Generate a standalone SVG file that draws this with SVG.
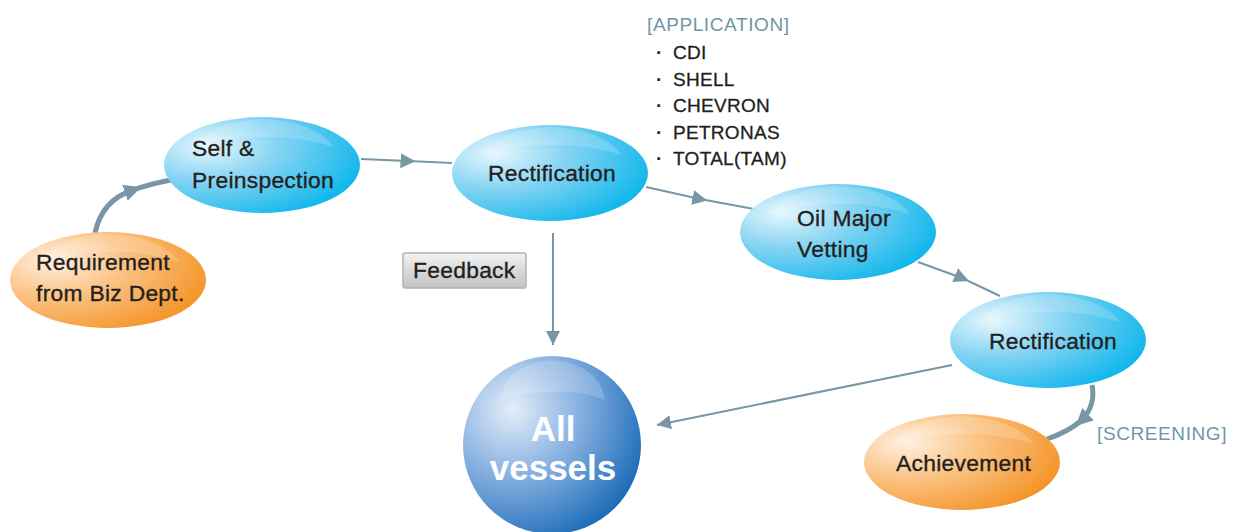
<svg xmlns="http://www.w3.org/2000/svg" width="1242" height="532" viewBox="0 0 1242 532">
<style>
.lbl{font-family:"Liberation Sans",Arial,sans-serif;font-size:22.8px;fill:#231f20;stroke:#231f20;stroke-width:0.35px;letter-spacing:0.3px}
.note{font-family:"Liberation Sans",Arial,sans-serif;font-size:19px;fill:#231f20;stroke:#231f20;stroke-width:0.3px;letter-spacing:0.3px}
.dot{font-family:"Liberation Sans",Arial,sans-serif;font-size:19px;font-weight:bold;fill:#231f20}
.tag{font-family:"Liberation Sans",Arial,sans-serif;font-size:19px;fill:#6f96a6;letter-spacing:0.6px}
.big{font-family:"Liberation Sans",Arial,sans-serif;font-size:35px;font-weight:bold;fill:#ffffff}
.thin{fill:none;stroke:#7896a4;stroke-width:2}
.thick{fill:none;stroke:#7896a4;stroke-width:5}
.gloss{fill:#ffffff;opacity:0.18}
</style>
<defs>
<radialGradient id="gBlue" cx="0.22" cy="0.3" r="0.9">
<stop offset="0" stop-color="#e6f7fd"/>
<stop offset="0.4" stop-color="#86d4f3"/>
<stop offset="1" stop-color="#00b3eb"/>
</radialGradient>
<radialGradient id="gOrange" cx="0.22" cy="0.3" r="0.9">
<stop offset="0" stop-color="#fff0e0"/>
<stop offset="0.4" stop-color="#fbc486"/>
<stop offset="1" stop-color="#f38e1c"/>
</radialGradient>
<radialGradient id="gSphere" cx="0.28" cy="0.3" r="0.85">
<stop offset="0" stop-color="#e3eef9"/>
<stop offset="0.45" stop-color="#86afe0"/>
<stop offset="1" stop-color="#0d63b3"/>
</radialGradient>
<linearGradient id="gGray" x1="0" y1="0" x2="0" y2="1">
<stop offset="0" stop-color="#f4f4f4"/>
<stop offset="0.5" stop-color="#d9d9d9"/>
<stop offset="1" stop-color="#c4c4c4"/>
</linearGradient>
<marker id="tri" viewBox="0 0 10 10" refX="5" refY="5" markerWidth="15" markerHeight="16" markerUnits="userSpaceOnUse" orient="auto">
<path d="M0,0 L10,5 L0,10 Z" fill="#7896a4"/>
</marker>
<marker id="triEnd" viewBox="0 0 10 10" refX="10" refY="5" markerWidth="14" markerHeight="15" markerUnits="userSpaceOnUse" orient="auto">
<path d="M0,0 L10,5 L0,10 Z" fill="#7896a4"/>
</marker>
<marker id="triBig" viewBox="0 0 10 10" refX="5" refY="5" markerWidth="17" markerHeight="18" markerUnits="userSpaceOnUse" orient="auto">
<path d="M0,0 L10,5 L0,10 Z" fill="#7896a4"/>
</marker>
</defs>

<g id="connectors">
<path class="thick" d="M95,233 Q102,200 133,190 Q150,184 171,180" marker-mid="url(#triBig)"/>
<polyline class="thin" points="361,159 408,161 452,163" marker-mid="url(#tri)"/>
<polyline class="thin" points="646,187 700,199 754,209" marker-mid="url(#tri)"/>
<polyline class="thin" points="918,262 962,278 1000,296" marker-mid="url(#tri)"/>
<line class="thin" x1="553" y1="233" x2="553" y2="345" marker-end="url(#triEnd)" stroke-width="3"/>
<line class="thin" x1="952" y1="365" x2="657" y2="425" marker-end="url(#triEnd)"/>
<path class="thick" d="M1092,385 Q1096,405 1082,420 Q1068,432 1047,439" marker-mid="url(#triBig)"/>
</g>

<g id="node-requirement">
<ellipse cx="108" cy="280" rx="98" ry="48" fill="url(#gOrange)"/>
<path class="gloss" d="M38,262 Q60,236 108,234 Q160,236 180,262 Q140,250 108,252 Q70,252 38,262 Z"/>
<text class="lbl" x="36" y="270">Requirement</text>
<text class="lbl" x="36" y="301">from Biz Dept.</text>
</g>

<g id="node-self">
<ellipse cx="262" cy="165" rx="98" ry="48" fill="url(#gBlue)"/>
<path class="gloss" d="M192,147 Q214,121 262,119 Q314,121 334,147 Q294,135 262,137 Q224,137 192,147 Z"/>
<text class="lbl" x="192" y="156">Self &amp;</text>
<text class="lbl" x="192" y="188">Preinspection</text>
</g>

<g id="node-rect1">
<ellipse cx="550" cy="173" rx="98" ry="48" fill="url(#gBlue)"/>
<path class="gloss" d="M480,155 Q502,129 550,127 Q602,129 622,155 Q582,143 550,145 Q512,145 480,155 Z"/>
<text class="lbl" x="488" y="181">Rectification</text>
</g>

<g id="node-oil">
<ellipse cx="838" cy="232" rx="98" ry="48" fill="url(#gBlue)"/>
<path class="gloss" d="M768,214 Q790,188 838,186 Q890,188 910,214 Q870,202 838,204 Q800,204 768,214 Z"/>
<text class="lbl" x="797" y="226">Oil Major</text>
<text class="lbl" x="797" y="257">Vetting</text>
</g>

<g id="node-rect2">
<ellipse cx="1048" cy="340" rx="98" ry="48" fill="url(#gBlue)"/>
<path class="gloss" d="M978,322 Q1000,296 1048,294 Q1100,296 1120,322 Q1080,310 1048,312 Q1010,312 978,322 Z"/>
<text class="lbl" x="989" y="349">Rectification</text>
</g>

<g id="node-achievement">
<ellipse cx="962" cy="462" rx="98" ry="48" fill="url(#gOrange)"/>
<path class="gloss" d="M892,444 Q914,418 962,416 Q1014,418 1034,444 Q994,432 962,434 Q924,434 892,444 Z"/>
<text class="lbl" x="896" y="471">Achievement</text>
</g>

<g id="node-allvessels">
<circle cx="552" cy="445" r="89" fill="url(#gSphere)"/>
<path class="gloss" d="M500,400 Q505,365 552,360 Q600,365 605,400 Q580,390 552,392 Q525,392 500,400 Z"/>
<text class="big" x="553" y="441" text-anchor="middle">All</text>
<text class="big" x="553" y="480" text-anchor="middle">vessels</text>
</g>

<g id="feedback">
<rect x="403" y="253" width="123" height="35" rx="2" fill="url(#gGray)" stroke="#b3b3b3" stroke-width="1.5"/>
<text class="lbl" x="413" y="278">Feedback</text>
</g>

<g id="application">
<text class="tag" x="647" y="31">[APPLICATION]</text>
<text class="dot" x="656" y="59">·</text><text class="note" x="673" y="59">CDI</text>
<text class="dot" x="656" y="85.5">·</text><text class="note" x="673" y="85.5">SHELL</text>
<text class="dot" x="656" y="112">·</text><text class="note" x="673" y="112">CHEVRON</text>
<text class="dot" x="656" y="138.5">·</text><text class="note" x="673" y="138.5">PETRONAS</text>
<text class="dot" x="656" y="165">·</text><text class="note" x="673" y="165">TOTAL(TAM)</text>
</g>

<g id="screening">
<text class="tag" x="1097" y="440">[SCREENING]</text>
</g>
</svg>
